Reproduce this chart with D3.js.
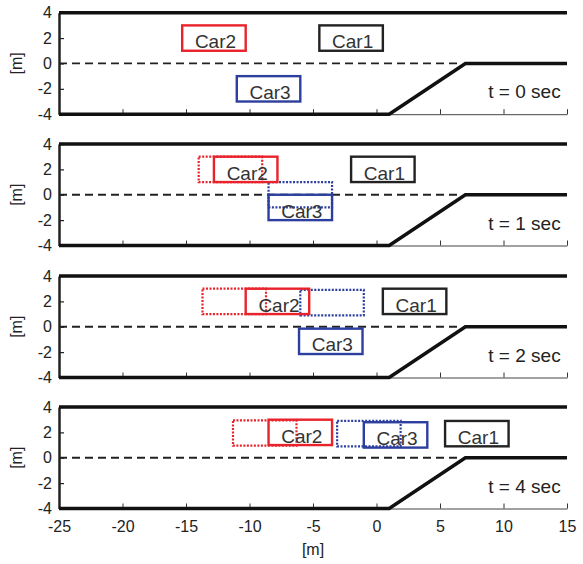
<!DOCTYPE html>
<html>
<head>
<meta charset="utf-8">
<script src="https://cdn.jsdelivr.net/npm/d3@7"></script>
<style>
  body { margin: 0; background: #fff; }
  text { font-family: "Liberation Sans", Arial, sans-serif; }
</style>
</head>
<body>
<figure style="margin:0"></figure>
<script>
// panel times
const times = [0, 1, 2, 4];

// road geometry [m]
const roadTopX = [-25, 15];
const roadTopY = [4, 4];
const roadEdgeX = [-25, 1, 7, 15];
const roadEdgeY = [-4, -4, 0, 0];
const laneX = [-25, 6.5];
const laneY = [0, 0];

// car boxes: rear x and lower y, one value per panel
const car1X = [-4.5, -2, 0.5, 5.4];
const car1Y = [1, 1, 1, 0.9];
const car2X = [-15.3, -12.8, -10.3, -8.5];
const car2Y = [1, 1, 1, 1];
const car2PrevX = [null, -14, -13.7, -11.3];
const car2PrevY = [null, 1, 1, 0.95];
const car3X = [-11, -8.5, -6.1, -1];
const car3Y = [-3, -2, -2.15, 0.8];
const car3PrevX = [null, -8.5, -6, -3.1];
const car3PrevY = [null, -1, 0.9, 0.9];
const carLen = 5, carWid = 2;

const xTicks = [-25, -20, -15, -10, -5, 0, 5, 10, 15];
const yTicks = [-4, -2, 0, 2, 4];

(() => {
  const W = 583, H = 564;
  const left = 59, right = 567;
  const panelTop = [12.7, 144, 276, 407];
  const panelH = 101.5;

  const svg = d3.select('figure').append('svg')
    .attr('width', W)
    .attr('height', H);

  const x = d3.scaleLinear().domain([-25, 15]).range([left, right]);
  const fmt = d => d < 0 ? '-' + Math.abs(d) : String(d);

  const red = '#e8232b', blue = '#2c3f9e', ink = '#222';

  times.forEach((t, i) => {
    const y = d3.scaleLinear().domain([-4, 4]).range([panelTop[i] + panelH, panelTop[i]]);
    const g = svg.append('g');
    const last = i === times.length - 1;

    // bottom axis (thin) with inward ticks
    const ax = g.append('g')
      .attr('transform', 'translate(0,' + y(-4) + ')')
      .call(d3.axisBottom(x).tickValues(xTicks).tickSizeInner(-5).tickSizeOuter(0)
        .tickFormat(last ? fmt : () => ''));
    ax.select('.domain').attr('stroke', '#444').attr('stroke-width', 1);
    ax.selectAll('.tick line').attr('stroke', '#333');
    ax.selectAll('.tick text')
      .attr('font-size', 16).attr('fill', ink).attr('y', 12).attr('dy', '0.71em');

    // left axis
    const ay = g.append('g')
      .attr('transform', 'translate(' + left + ',0)')
      .call(d3.axisLeft(y).tickValues(yTicks).tickSizeInner(-5).tickSizeOuter(0).tickFormat(fmt));
    ay.select('.domain').attr('stroke', ink).attr('stroke-width', 2.5);
    ay.selectAll('.tick line').attr('stroke', ink).attr('stroke-width', 1.2);
    ay.selectAll('.tick text')
      .attr('font-size', 16).attr('fill', ink).attr('x', -7);

    g.append('text')
      .attr('transform', 'translate(22,' + y(0) + ') rotate(-90)')
      .attr('text-anchor', 'middle')
      .attr('font-size', 16).attr('fill', ink)
      .text('[m]');

    const line = d3.line().x(d => x(d[0])).y(d => y(d[1]));

    g.append('path')
      .attr('d', line(d3.zip(laneX, laneY)))
      .attr('fill', 'none').attr('stroke', '#222').attr('stroke-width', 1.8)
      .attr('stroke-dasharray', '8,5');

    g.append('path')
      .attr('d', line(d3.zip(roadTopX, roadTopY)))
      .attr('fill', 'none').attr('stroke', '#111').attr('stroke-width', 3.5);

    g.append('path')
      .attr('d', line(d3.zip(roadEdgeX, roadEdgeY)))
      .attr('fill', 'none').attr('stroke', '#111').attr('stroke-width', 3.5)
      .attr('stroke-linejoin', 'miter');

    const box = (bx, by, color, dotted) => {
      g.append('rect')
        .attr('x', x(bx)).attr('y', y(by + carWid))
        .attr('width', x(bx + carLen) - x(bx))
        .attr('height', y(by) - y(by + carWid))
        .attr('fill', 'none').attr('stroke', color)
        .attr('stroke-width', dotted ? 2.2 : 2.4)
        .attr('stroke-dasharray', dotted ? '2,1.5' : null);
    };
    const label = (bx, by, name) => {
      g.append('text')
        .attr('x', x(bx + 1)).attr('y', y(by + carWid / 2 - 0.8))
        .attr('font-size', 19).attr('fill', '#333')
        .text(name);
    };

    if (car2PrevX[i] !== null) box(car2PrevX[i], car2PrevY[i], red, true);
    if (car3PrevX[i] !== null) box(car3PrevX[i], car3PrevY[i], blue, true);
    box(car2X[i], car2Y[i], red, false);
    box(car3X[i], car3Y[i], blue, false);
    box(car1X[i], car1Y[i], ink, false);
    label(car1X[i], car1Y[i], 'Car1');
    label(car2X[i], car2Y[i], 'Car2');
    label(car3X[i], car3Y[i], 'Car3');

    g.append('text')
      .attr('x', x(14.5)).attr('y', y(-2.75))
      .attr('text-anchor', 'end')
      .attr('font-size', 19).attr('fill', ink)
      .text('t = ' + t + ' sec');
  });

  svg.append('text')
    .attr('x', x(-5)).attr('y', 555)
    .attr('text-anchor', 'middle')
    .attr('font-size', 16).attr('fill', ink)
    .text('[m]');
})();
</script>
</body>
</html>
